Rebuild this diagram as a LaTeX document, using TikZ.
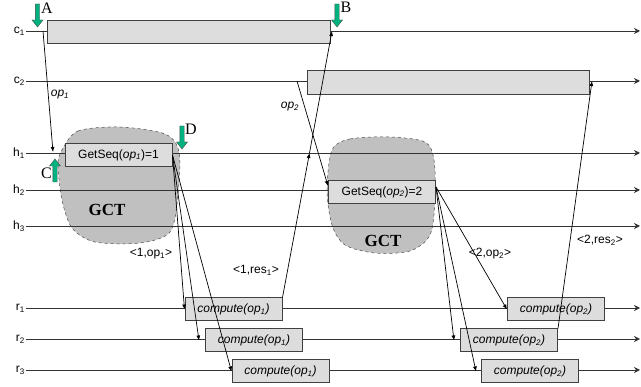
\documentclass[tikz,border=0pt]{standalone}
\usepackage{fontspec}
\setmainfont{Liberation Sans}
\newfontfamily\tmsfont{Liberation Serif}
\usepackage{tikz}
\usetikzlibrary{arrows.meta}

\definecolor{boxgray}{RGB}{221,221,221}
\definecolor{gctgray}{RGB}{192,192,192}
\definecolor{markgreen}{RGB}{0,178,128}

\begin{document}
\begin{tikzpicture}[
  x=1pt, y=-1pt,
  font=\fontsize{12}{14}\selectfont,
  lane/.style   ={draw=black!80, line width=0.9pt, -{Stealth[length=6pt,width=6pt]}},
  lanelab/.style={anchor=east, inner sep=1pt},
  box/.style    ={draw=black!75, fill=boxgray, line width=1pt, inner sep=0pt,
                  minimum height=23pt},
  seq/.style    ={box, minimum width=107pt},
  run/.style    ={box, minimum width=97pt, font=\fontsize{12}{14}\selectfont\itshape},
  gct/.style    ={draw=black!70, dashed, fill=gctgray, line width=0.5pt},
  gcttxt/.style ={font=\tmsfont\bfseries\fontsize{17}{17}\selectfont, inner sep=0pt},
  msg/.style    ={-{Latex[length=5pt,width=4pt]}, line width=0.7pt},
  note/.style   ={inner sep=1pt},
  mk/.style     ={draw=black!70, fill=markgreen, line width=0.4pt},
  letter/.style ={font=\tmsfont\fontsize{16}{16}\selectfont, inner sep=0pt},
]
\useasboundingbox (0,0) rectangle (641,387);

% ---------------- group communication regions ----------------
\draw[gct] plot[smooth cycle] coordinates {(62,150) (78,131) (120,127) (165,134)
  (179,152) (178,195) (170,232) (140,243) (95,242) (72,228) (62,200) (58,165)};
\draw[gct] plot[smooth cycle] coordinates {(332,150) (350,139) (390,137) (425,142)
  (434,160) (435,200) (430,235) (410,251) (375,253) (345,245) (332,225) (327,190)};
\node[gcttxt] (gct1) at (107,210) {GCT};
\node[gcttxt] (gct2) at (383,241) {GCT};

% ---------------- process lanes ----------------
\foreach \l/\i/\y in {c/1/31, c/2/81, h/1/153, h/2/190, h/3/226, r/1/308, r/2/339, r/3/370} {
  \node[lanelab] (\l\i) at (26,\y) {\l\textsubscript{\i}};
  \coordinate (\l\i-end) at (640,\y);
  \draw[lane] (\l\i.east) -- (\l\i-end);
}

% ---------------- activity boxes ----------------
\node[box, minimum width=283pt] (cbox1) at (188.5,32.5) {};
\node[box, minimum width=282pt, minimum height=24pt] (cbox2) at (448,83) {};
\node[seq] (gs1) at (118.5,155) {GetSeq(\textit{op}\textsubscript{\textit{1}})=1};
\node[seq] (gs2) at (382,192) {GetSeq(\textit{op}\textsubscript{\textit{2}})=2};

\node[run] (p11) at (233.5,309.5) {compute(op\textsubscript{1})};
\node[run] (p12) at (254,340.5)   {compute(op\textsubscript{1})};
\node[run] (p13) at (280.5,371.5) {compute(op\textsubscript{1})};
\node[run] (p21) at (556,309.5)   {compute(op\textsubscript{2})};
\node[run] (p22) at (509,340.5)   {compute(op\textsubscript{2})};
\node[run] (p23) at (530,371.5)   {compute(op\textsubscript{2})};

% ---------------- requests ----------------
\coordinate (op1s) at (43,31);
\coordinate (op1d) at (53,152);
\draw[msg] (op1s) -- (op1d);
\node[note] (op1lab) at (60,95) {\textit{op}\textsubscript{\textit{1}}};

\coordinate (op2s) at (297,81);
\draw[msg] (op2s) -- ([yshift=6pt]gs2.west);
\node[note] (op2lab) at (290,107) {\textit{op}\textsubscript{\textit{2}}};

% ---------------- ordered multicast ----------------
\draw[msg] (gs1.east) -- (p11.west);
\draw[msg] (gs1.east) -- ([xshift=-6pt]p12.west);
\draw[msg] (gs1.east) -- (p13.west);
\node[note] (m1) at (151,254) {\textless1,op\textsubscript{1}\textgreater};

\draw[msg] ([yshift=5pt]gs2.east) -- (p21.west);
\draw[msg] ([yshift=5pt]gs2.east) -- ([xshift=-6pt]p22.west);
\draw[msg] ([yshift=5pt]gs2.east) -- ([xshift=-5pt]p23.west);
\node[note] (m2) at (490,254) {\textless2,op\textsubscript{2}\textgreater};

% ---------------- replies ----------------
\coordinate (res1h) at (309.5,153);
\coordinate (res1c) at (332,31);
\draw[msg] (p11.north east) -- (res1h);
\draw[msg] (res1h) -- (res1c);
\node[note] (m3) at (256,270) {\textless1,res\textsubscript{1}\textgreater};

\coordinate (res2c) at (592,81);
\draw[msg] (p22.north east) -- (res2c);
\node[note] (m4) at (600,240) {\textless2,res\textsubscript{2}\textgreater};

% ---------------- event markers ----------------
\foreach \x/\y in {37.5/4, 337/4, 182/126}
  \draw[mk] (\x-2.2,\y) -- (\x+2.2,\y) -- (\x+2.2,\y+16) -- (\x+5.5,\y+16)
    -- (\x,\y+23) -- (\x-5.5,\y+16) -- (\x-2.2,\y+16) -- cycle;
\draw[mk] (52.8,182) -- (57.2,182) -- (57.2,166) -- (60.5,166) -- (55,159)
  -- (49.5,166) -- (52.8,166) -- cycle;
\node[letter] (la) at (47,8)     {A};
\node[letter] (lb) at (346,7)    {B};
\node[letter] (lc) at (46.5,173) {C};
\node[letter] (ld) at (191,129)  {D};

\end{tikzpicture}
\end{document}
